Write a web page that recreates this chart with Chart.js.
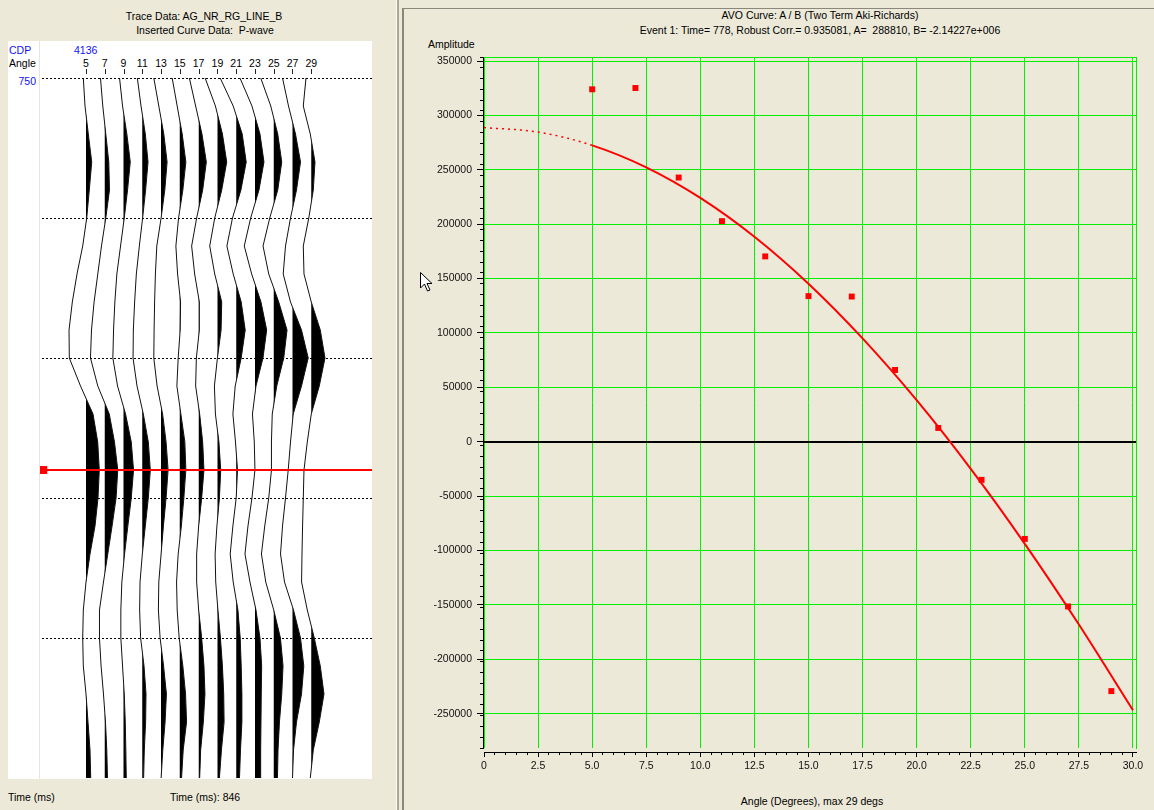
<!DOCTYPE html>
<html><head><meta charset="utf-8">
<script src="https://cdn.jsdelivr.net/npm/chart.js@4.4.1/dist/chart.umd.min.js"></script>
<style>
html,body{margin:0;padding:0;background:#ece9d8;width:1154px;height:810px;overflow:hidden;
  font-family:"Liberation Sans",Arial,sans-serif;font-size:10.5px;color:#000;}
.t{position:absolute;white-space:pre;line-height:12px;}
.c{transform:translateX(-50%);}
.blue{color:#1010ff;}
.box{position:absolute;}
</style></head><body>

<!-- left panel frame -->
<div class="box" style="left:8px;top:41px;width:364px;height:738px;background:#fff;"></div>
<div class="box" style="left:39px;top:41px;width:1px;height:738px;background:#e6e4dc;"></div>
<!-- splitter -->
<div class="box" style="left:396px;top:0;width:1px;height:810px;background:#fbfaf5;"></div>
<div class="box" style="left:397px;top:0;width:2px;height:810px;background:#aca899;"></div>
<div class="box" style="left:402px;top:8px;width:2px;height:802px;background:#8a877c;"></div>
<div class="box" style="left:402px;top:8px;width:752px;height:1px;background:#8a877c;"></div>

<div class="t c" style="left:204px;top:10px;">Trace Data: AG_NR_RG_LINE_B</div>
<div class="t c" style="left:205px;top:24px;">Inserted Curve Data:  P-wave</div>
<div class="t blue" style="left:9px;top:44px;">CDP</div>
<div class="t blue" style="left:74px;top:44px;">4136</div>
<div class="t" style="left:9px;top:57px;">Angle</div>
<div class="t blue" style="left:6px;top:75px;width:30px;text-align:right;">750</div>
<div class="t" style="left:8px;top:791px;">Time (ms)</div>
<div class="t" style="left:170px;top:791px;">Time (ms): 846</div>

<div class="t c" style="left:820px;top:9px;">AVO Curve: A / B (Two Term Aki-Richards)</div>
<div class="t c" style="left:820px;top:24px;">Event 1: Time= 778, Robust Corr.= 0.935081, A=  288810, B= -2.14227e+006</div>
<div class="t" style="left:428px;top:38px;">Amplitude</div>
<div class="t c" style="left:812px;top:795px;">Angle (Degrees), max 29 degs</div>

<div id="angleLabels"></div>
<canvas id="traces" width="701" height="332" style="position:absolute;left:372px;top:78px;transform-origin:0 0;transform:rotate(90deg);"></canvas>
<canvas id="avo" width="750" height="810" style="position:absolute;left:404px;top:0;"></canvas>

<svg style="position:absolute;left:420px;top:272px;" width="14" height="22"><polygon points="0.5,0.5 0.5,16 4.5,12 7.5,19 10,18 7,11.5 12,11.5" fill="#fff" stroke="#000" stroke-width="1"/></svg>

<script>
// ---------------- data: seismic gather (left) ----------------
const sampleTimes = [750,752,754,756,758,760,762,764,766,768,770,772,774,776,778,780,782,784,786,788,790,792,794,796,798,800];
const traceAngles = [5,7,9,11,13,15,17,19,21,23,25,27,29];
const amp05 = [-2.7,-1,2.3,5.7,3.3,0.7,-3.3,-9,-13.7,-17,-16.7,-5.5,7,11.7,13.3,12,9,4,0,-2.7,-3.3,-2.7,0,2,4,4.7];
const amp07 = [-4.3,-2,1,4,4.7,1,-3.3,-7,-10.7,-13.3,-14.3,-7,4.5,9.7,13,11.3,7.3,3,-1.3,-5.3,-5.3,-3.7,-1.3,0.7,2,2.7];
const amp09 = [-4,-1,3.3,6.7,4,0.7,-3,-6.7,-8.7,-10,-10.7,-6,2,7.7,10,7.7,4.3,1,-1.7,-2.7,-2.7,-1,0.7,1.7,2.3,2.7];
const amp11 = [-5,-1.3,3,5.7,3.3,0.3,-3,-6,-7.7,-9,-9.3,-5.3,1,6,8,6,3,0,-2.3,-2.7,-1.7,1.7,3.7,3.3,2,1.3];
const amp13 = [-7.3,-2.3,2.7,6,3.7,0,-4.3,-5.7,-6.5,-7,-7.3,-4,1.5,5,7,5,2.3,0,-2.3,-2.7,-1,2.5,5.3,4,1.7,0];
const amp15 = [-7.7,-2.7,2.3,6,3,-1.3,-4,-2.3,0.7,0.3,-1.7,-3,1,5,6,4,1.5,-1.7,-3.3,-2.7,-0.7,3,5.7,6.7,3.3,1.7];
const amp17 = [-9.3,-3,3.3,7.7,4,-2,-7,-4,0.7,0.7,-2.3,-3,1,4,5.3,3,0,-2,-2,0,3,5.3,6.3,4.7,2,1];
const amp19 = [-12.3,-2,5,9.3,4.3,-2.7,-7.7,-2.7,4.3,3.7,0,-3,-2,1.5,3.3,2,-0.5,-2.3,-1.7,0.5,3,5,6.3,6.7,4,2];
const amp21 = [-16,-3,6,10,4.7,-3.7,-9.3,-3,5,9,5,-1,-3.3,-0.7,1.3,0,-3.3,-6,-3,1.7,4,5,5.7,5.7,4.3,3.3];
const amp23 = [-15,-3,5,9,4,-4.3,-10.7,-3.3,6,11.7,8,1,-2.5,-0.7,0,-3,-7,-10,-5,1,5,6.7,6.3,6,5.7,5.7];
const amp25 = [-13,-3,4,8,4,-4,-10.7,-5,5,13.3,10,3,-1.5,-2.3,-2.3,-5,-9,-12.3,-8,0,6.7,9.3,8,5.7,4.3,3.7];
const amp27 = [-10,-4,3,8,4,-2,-7,-9.3,-2,9,15.7,9,0.7,-2,-4.3,-7,-10,-12,-8,1,8,11.3,9,4,1,0];
const amp29 = [-5.3,-8,-1,3.7,2,-2.5,-8,-7.3,0,9,13.7,8,0,-4,-7.3,-8,-8.7,-9.3,-9.7,-4,3,9,12.7,8,2,-1];
const traceAmps = [amp05,amp07,amp09,amp11,amp13,amp15,amp17,amp19,amp21,amp23,amp25,amp27,amp29];
const gridTimes = [750,760,770,780,790];
const eventTime = 778;

// ---------------- data: AVO curve (right) ----------------
const fitAngles = [0,2.5,5,7.5,10,12.5,15,17.5,20,22.5,25,27.5,30];
const fitAmps   = [288800,284700,272500,252300,224200,188500,145300,95000,38200,-24900,-93800,-168000,-246800];
const obsAngles = [5,7,9,11,13,15,17,19,21,23,25,27,29];
const obsAmps   = [324000,325200,242900,202800,170400,133900,133500,66000,12700,-35000,-89300,-151400,-229200];
const xTickValues = [0,2.5,5,7.5,10,12.5,15,17.5,20,22.5,25,27.5,30];
const xTickLabels = ['0','2.5','5.0','7.5','10.0','12.5','15.0','17.5','20.0','22.5','25.0','27.5','30.0'];
const yTickValues = [350000,300000,250000,200000,150000,100000,50000,0,-50000,-100000,-150000,-200000,-250000];
const yTickLabels = ['350000','300000','250000','200000','150000','100000','50000','0','-50000','-100000','-150000','-200000','-250000'];

// ---------------- display constants ----------------
const AMP_GAIN = 1/9.39;          // trace amplitude -> angle-axis units
const L_TMIN = 750, L_TMAX = 800.07, L_AMIN = 0.10, L_AMAX = 35.47;
const X_MIN = 0, X_MAX = 30.14, Y_MIN = -281500, Y_MAX = 353700;
const FONT = {family:'"Liberation Sans", Arial, sans-serif', size:10.5};
const GREEN = '#00f000';

Chart.defaults.font = FONT;

// positive lobe outline of one wiggle (clamped at its baseline, split where the drawn segment crosses it)
function positiveLobe(times, amps, base){
  const pts = [];
  for (let i = 0; i < times.length; i++){
    if (i > 0 && (amps[i-1] > 0) !== (amps[i] > 0) && amps[i-1] !== amps[i]){
      const f = amps[i-1] / (amps[i-1] - amps[i]);
      pts.push({x: times[i-1] + f*(times[i]-times[i-1]), y: base});
    }
    pts.push({x: times[i], y: base + Math.max(amps[i], 0)*AMP_GAIN});
  }
  return pts;
}

// ---------------- left: wiggle traces (drawn landscape, rotated 90deg) ----------------
const leftSets = [{
  data:[{x:eventTime,y:L_AMIN+0.35},{x:eventTime,y:L_AMAX}],
  borderColor:'#ff0000', backgroundColor:'#ff0000', borderWidth:2,
  pointStyle:'rect', pointRadius:(c)=>c.dataIndex===0?5.6:0, pointBorderWidth:0,
  fill:false, order:0, clip:false
}];
traceAngles.forEach((a,k)=>{
  leftSets.push({
    data: sampleTimes.map((t,i)=>({x:t, y:a + traceAmps[k][i]*AMP_GAIN})),
    borderColor:'#111', borderWidth:1, pointRadius:0, tension:0, fill:false, order:1
  });
  leftSets.push({
    data: positiveLobe(sampleTimes, traceAmps[k], a),
    borderWidth:0, borderColor:'rgba(0,0,0,0)', backgroundColor:'#000', pointRadius:0, tension:0,
    fill:{value:a}, order:2
  });
});
const leftChart = new Chart(document.getElementById('traces'), {
  type:'line',
  data:{datasets:leftSets},
  options:{
    responsive:false, animation:false, devicePixelRatio:1, events:[],
    layout:{padding:0, autoPadding:false},
    plugins:{legend:{display:false}, tooltip:{enabled:false}},
    scales:{
      x:{type:'linear', min:L_TMIN, max:L_TMAX,
         afterBuildTicks:(s)=>{s.ticks = gridTimes.map(v=>({value:v}));},
         ticks:{display:false}, grid:{color:'#000', lineWidth:1, drawTicks:false},
         border:{display:false, dash:[2,2]}, afterFit:(s)=>{s.height=0;}},
      y:{type:'linear', min:L_AMIN, max:L_AMAX, display:false}
    }
  }
});

// angle labels above traces, placed through the chart's angle scale
(function(){
  const ys = leftChart.scales.y;
  const holder = document.getElementById('angleLabels');
  traceAngles.forEach(a=>{
    const sx = 372 - ys.getPixelForValue(a);
    const d = document.createElement('div');
    d.className='t'; d.textContent=String(a);
    d.style.left=(sx-10)+'px'; d.style.width='20px'; d.style.textAlign='center'; d.style.top='57px';
    holder.appendChild(d);
    const tk = document.createElement('div');
    tk.className='box'; tk.style.left=Math.round(sx)+'px'; tk.style.top='69px';
    tk.style.width='1px'; tk.style.height='5px'; tk.style.background='#222';
    holder.appendChild(tk);
  });
})();

// ---------------- right: AVO curve ----------------
const lin = {type:'linear'};
new Chart(document.getElementById('avo'), {
  type:'line',
  data:{datasets:[
    {type:'line', data: obsAngles.map((a,i)=>({x:a,y:obsAmps[i]})), showLine:false,
     pointStyle:'rect', pointRadius:4.2, pointBorderWidth:0, backgroundColor:'#ff0000', borderColor:'#ff0000', order:0},
    {type:'line', data: fitAngles.map((a,i)=>({x:a,y:fitAmps[i]})), borderColor:'#ff0000', borderWidth:2,
     pointRadius:0, cubicInterpolationMode:'monotone', fill:false, order:1,
     segment:{borderDash:(c)=>c.p1.parsed.x<=5?[2,4]:undefined, borderWidth:(c)=>c.p1.parsed.x<=5?1.5:2}}
  ]},
  options:{
    responsive:false, animation:false, devicePixelRatio:1, events:[],
    layout:{padding:{left:0, top:57, right:18, bottom:0}, autoPadding:false},
    plugins:{legend:{display:false}, tooltip:{enabled:false}},
    scales:{
      x:{...lin, axis:'x', position:'bottom', weight:0, min:X_MIN, max:X_MAX,
         afterBuildTicks:(s)=>{s.ticks = xTickValues.map(v=>({value:v}));},
         ticks:{display:false}, grid:{color:GREEN, lineWidth:1, drawTicks:false}, border:{display:false},
         afterFit:(s)=>{s.height=4;}},
      xMinor:{...lin, axis:'x', position:'bottom', weight:1, min:X_MIN, max:X_MAX,
         ticks:{display:false, stepSize:0.5, autoSkip:false, includeBounds:false},
         grid:{drawOnChartArea:false, tickLength:3, tickColor:'#000'}, border:{display:true, color:'#000', width:1},
         afterFit:(s)=>{s.height=0;}},
      xMajor:{...lin, axis:'x', position:'bottom', weight:2, min:X_MIN, max:X_MAX,
         afterBuildTicks:(s)=>{s.ticks = xTickValues.map(v=>({value:v}));},
         ticks:{display:true, autoSkip:false, maxRotation:0, padding:3, color:'#111', font:FONT,
                callback:(v,i)=>xTickLabels[i]},
         grid:{drawOnChartArea:false, tickLength:5, tickColor:'#000'}, border:{display:false},
         afterFit:(s)=>{s.height=58;}},
      xTop:{...lin, axis:'x', position:'top', min:X_MIN, max:X_MAX, ticks:{display:false},
         grid:{drawOnChartArea:false, drawTicks:false}, border:{display:true, color:GREEN, width:1},
         afterFit:(s)=>{s.height=0;}},
      y:{...lin, axis:'y', position:'left', weight:0, min:Y_MIN, max:Y_MAX,
         afterBuildTicks:(s)=>{s.ticks = yTickValues.map(v=>({value:v}));},
         ticks:{display:false},
         grid:{drawTicks:false,
               color:(c)=>(c.tick && c.tick.value===0)?'#000':GREEN,
               lineWidth:(c)=>(c.tick && c.tick.value===0)?2:1},
         border:{display:false}, afterFit:(s)=>{s.width=1;}},
      yMinor:{...lin, axis:'y', position:'left', weight:1, min:Y_MIN, max:Y_MAX,
         ticks:{display:false, stepSize:10000, autoSkip:false, includeBounds:false},
         grid:{drawOnChartArea:false, tickLength:3, tickColor:'#000'}, border:{display:true, color:'#000', width:1},
         afterFit:(s)=>{s.width=0;}},
      yMajor:{...lin, axis:'y', position:'left', weight:2, min:Y_MIN, max:Y_MAX,
         afterBuildTicks:(s)=>{s.ticks = yTickValues.map(v=>({value:v}));},
         ticks:{display:true, autoSkip:false, padding:5, color:'#111', font:FONT,
                callback:(v,i)=>yTickLabels[i]},
         grid:{drawOnChartArea:false, tickLength:6, tickColor:'#000'}, border:{display:false},
         afterFit:(s)=>{s.width=79;}},
      yRight:{...lin, axis:'y', position:'right', min:Y_MIN, max:Y_MAX, ticks:{display:false},
         grid:{drawOnChartArea:false, drawTicks:false}, border:{display:true, color:GREEN, width:1},
         afterFit:(s)=>{s.width=0;}}
    }
  }
});
</script>
</body></html>
